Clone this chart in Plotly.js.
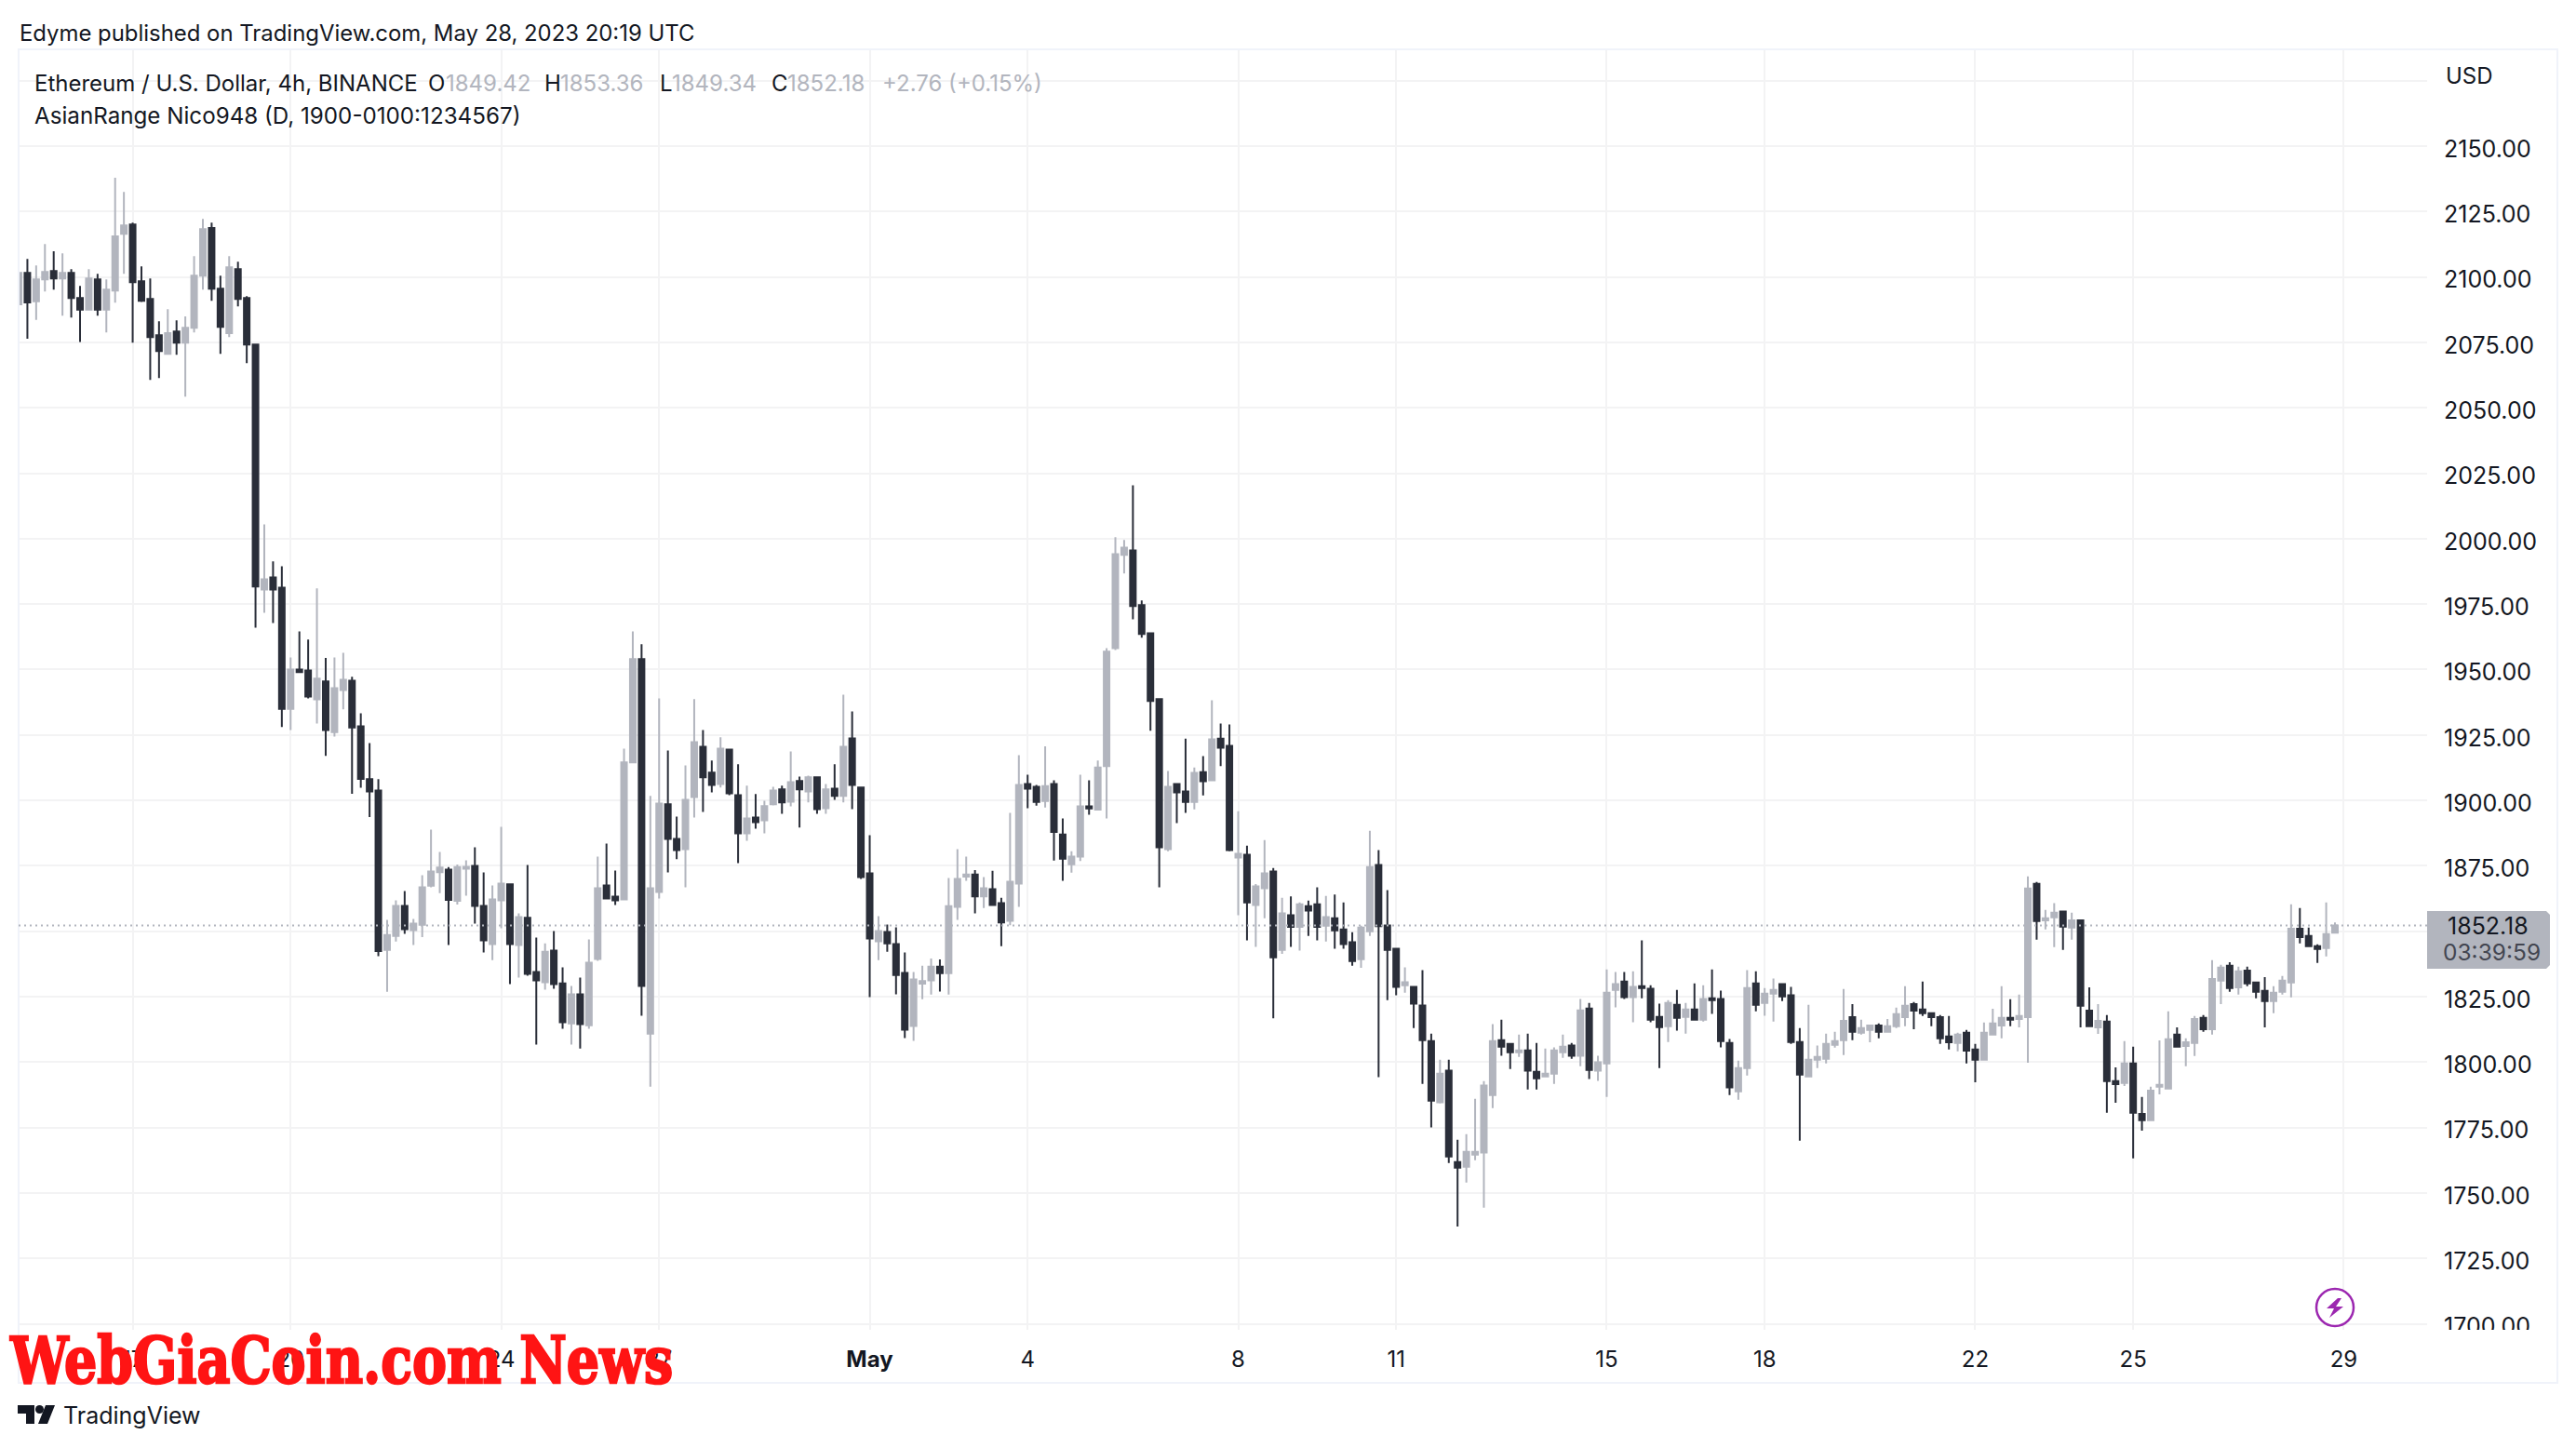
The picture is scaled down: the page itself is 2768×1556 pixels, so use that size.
<!DOCTYPE html>
<html>
<head>
<meta charset="utf-8">
<script src="https://cdn.plot.ly/plotly-3.0.1.min.js"></script>
<style>html,body{margin:0;padding:0;background:#fff}</style>
</head>
<body>
<div id="chart" style="width:2768px;height:1556px"></div>
<script>
const firstCandle = Date.UTC(2023, 3, 14, 20);
const opens = [
2089.6,2101.6,2090.7,2099.1,2102.3,2099.4,2101.6,2092.0,2087.5,2099.1,
2087.5,2094.8,2116.5,2120.1,2098.4,2091.6,2077.7,2070.6,2079.2,2074.9,
2080.6,2100.5,2118.7,2095.5,2078.5,2103.0,2092.0,2074.2,1980.6,1985.2,
1981.3,1935.0,1950.0,1949.6,1938.6,1945.5,1926.1,1942.2,1945.7,1928.3,
1908.1,1903.8,1842.9,1848.2,1859.7,1850.4,1852.5,1867.4,1872.6,1873.5,
1861.6,1873.9,1875.0,1859.7,1845.1,1861.8,1867.9,1844.7,1855.1,1834.4,
1830.5,1842.6,1830.1,1814.8,1825.9,1814.1,1839.4,1867.5,1863.2,1862.2,
1914.5,1954.0,1810.9,1865.0,1898.5,1885.3,1881.4,1901.3,1920.5,1910.6,
1906.3,1919.4,1902.0,1887.4,1893.5,1892.4,1898.5,1904.2,1899.5,1907.4,
1903.4,1908.8,1897.0,1904.5,1901.7,1923.7,1904.9,1872.1,1846.2,1849.7,
1845.1,1834.1,1813.8,1830.0,1831.2,1836.5,1834.0,1859.3,1870.9,1871.7,
1863.3,1866.1,1860.7,1854.0,1868.2,1906.3,1905.2,1899.8,1906.3,1887.0,
1875.6,1878.5,1897.7,1896.5,1913.1,1958.2,1993.8,1995.5,1974.6,1963.9,
1938.7,1881.4,1906.3,1903.4,1899.4,1910.8,1907.7,1923.6,1920.8,1878.2,
1879.2,1860.0,1866.4,1872.8,1842.9,1856.1,1851.7,1859.6,1860.3,1852.1,
1855.0,1850.7,1845.8,1839.3,1850.0,1875.3,1852.2,1843.3,1829.4,1828.7,
1821.6,1808.0,1784.6,1796.7,1761.8,1760.0,1764.6,1765.4,1787.4,1808.4,
1807.0,1803.8,1804.5,1796.3,1794.5,1795.6,1803.8,1806.3,1802.4,1820.5,
1796.7,1799.5,1827.6,1830.8,1824.8,1829.0,1828.0,1817.3,1813.7,1821.9,
1817.3,1820.1,1816.2,1824.4,1824.1,1807.3,1788.8,1797.7,1830.1,1822.6,
1826.2,1829.8,1825.5,1807.7,1794.5,1800.9,1801.3,1806.6,1808.4,1817.2,
1811.2,1812.3,1814.0,1811.6,1813.7,1817.2,1822.2,1820.1,1818.7,1817.2,
1809.8,1807.3,1811.2,1804.8,1800.9,1810.5,1814.0,1816.9,1816.5,1817.2,
1868.1,1854.2,1855.3,1857.5,1851.4,1854.2,1819.7,1813.3,1815.5,1792.7,
1792.0,1799.5,1780.2,1777.8,1790.6,1789.9,1810.5,1806.2,1807.3,1816.9,
1812.6,1831.1,1836.8,1828.6,1835.0,1830.4,1827.2,1823.3,1826.9,1830.4,
1851.0,1848.2,1844.3,1843.6,1849.42];
const closes = [
2101.6,2090.3,2099.1,2101.9,2099.4,2101.6,2092.0,2087.5,2099.4,2087.5,
2095.2,2115.5,2119.7,2098.0,2090.9,2077.0,2071.7,2078.5,2074.9,2080.6,
2100.5,2118.3,2095.5,2080.9,2103.7,2091.6,2074.2,1981.7,1984.5,1980.6,
1935.0,1950.0,1949.0,1939.7,1946.5,1926.9,1942.9,1946.1,1927.9,1908.2,
1903.4,1842.4,1848.6,1859.7,1850.8,1852.9,1866.8,1872.8,1874.3,1862.0,
1874.5,1874.6,1859.7,1846.5,1862.2,1868.2,1845.1,1855.4,1833.7,1831.2,
1842.2,1829.8,1815.2,1825.9,1814.5,1838.0,1866.4,1862.5,1861.8,1914.5,
1954.0,1829.1,1866.4,1898.8,1885.3,1881.0,1900.2,1922.3,1908.8,1905.9,
1919.8,1902.7,1887.4,1893.1,1891.7,1897.8,1903.8,1899.2,1907.0,1904.2,
1908.8,1896.7,1904.2,1901.7,1920.5,1905.9,1870.7,1847.2,1850.1,1845.4,
1833.3,1812.4,1831.6,1831.0,1836.5,1834.0,1859.6,1870.0,1871.7,1863.3,
1866.4,1860.0,1853.4,1868.9,1905.9,1904.5,1899.4,1905.5,1887.9,1877.7,
1878.5,1897.7,1896.9,1912.6,1956.8,1994.1,1996.6,1974.3,1963.6,1938.0,
1882.1,1905.2,1903.1,1899.4,1910.5,1907.3,1923.3,1920.1,1881.0,1879.6,
1861.0,1867.1,1872.1,1840.0,1856.8,1851.7,1860.3,1857.9,1851.7,1855.4,
1850.3,1845.1,1838.6,1851.4,1874.5,1851.9,1842.9,1828.7,1830.5,1822.3,
1808.4,1785.3,1795.6,1763.9,1759.7,1765.7,1765.7,1791.0,1808.0,1805.9,
1803.8,1804.5,1796.7,1793.8,1795.6,1804.5,1805.9,1802.4,1819.8,1797.0,
1799.9,1826.5,1829.8,1824.8,1828.7,1828.3,1816.2,1813.4,1822.6,1816.9,
1820.1,1816.2,1824.1,1823.7,1808.0,1790.3,1797.7,1828.3,1821.9,1826.2,
1827.6,1825.1,1807.7,1795.2,1800.9,1802.0,1807.0,1808.0,1815.8,1811.6,
1813.0,1814.0,1811.6,1813.7,1818.3,1821.5,1819.7,1818.7,1817.2,1809.1,
1807.6,1810.5,1804.4,1800.9,1811.2,1814.8,1816.9,1816.2,1817.6,1866.3,
1853.9,1855.0,1857.1,1851.8,1854.2,1821.5,1813.7,1815.8,1792.7,1791.6,
1799.5,1780.6,1777.8,1789.1,1791.3,1808.7,1805.9,1807.6,1816.5,1812.6,
1831.8,1836.1,1828.3,1834.7,1830.1,1826.9,1823.3,1826.5,1831.1,1851.0,
1847.8,1844.3,1843.2,1848.9,1852.18];
const highs = [
2120.1,2106.9,2104.4,2112.6,2109.8,2109.0,2103.0,2096.6,2103.0,2101.2,
2099.1,2137.9,2132.5,2120.8,2104.1,2099.4,2083.1,2087.7,2083.4,2084.9,
2108.0,2122.2,2120.8,2100.5,2108.0,2105.8,2092.7,2074.2,2005.5,1991.3,
1989.5,1954.6,1964.6,1961.5,1981.0,1954.4,1954.6,1956.4,1947.2,1933.3,
1921.9,1908.1,1854.3,1861.8,1865.4,1854.7,1871.4,1888.8,1880.3,1874.5,
1875.5,1877.1,1882.1,1872.5,1867.5,1889.9,1867.9,1856.8,1875.3,1847.6,
1845.4,1850.1,1836.2,1829.1,1832.3,1846.9,1878.5,1883.5,1873.2,1919.8,
1964.6,1959.7,1901.7,1939.0,1919.1,1893.8,1913.4,1938.7,1926.9,1915.2,
1924.1,1919.4,1913.8,1905.6,1902.4,1899.9,1905.2,1905.6,1918.7,1909.1,
1909.5,1909.1,1906.3,1913.8,1940.4,1934.0,1904.9,1886.7,1855.8,1852.6,
1851.5,1841.9,1834.4,1836.8,1839.6,1839.2,1870.3,1881.4,1878.5,1873.4,
1870.7,1873.1,1862.8,1895.2,1917.3,1909.8,1905.9,1920.7,1907.7,1893.1,
1880.6,1909.8,1907.7,1915.2,1958.2,2000.6,1999.5,2020.4,1976.4,1963.9,
1938.7,1911.2,1906.3,1923.6,1912.6,1916.9,1938.3,1929.4,1929.0,1895.9,
1882.7,1868.0,1884.8,1874.2,1862.8,1863.3,1861.0,1861.7,1866.8,1863.5,
1864.0,1861.0,1849.6,1852.1,1888.4,1881.0,1865.7,1843.3,1836.2,1828.7,
1835.1,1810.9,1800.9,1800.9,1770.3,1772.5,1786.0,1792.7,1814.5,1816.2,
1807.3,1810.5,1810.9,1807.3,1805.2,1805.6,1810.5,1807.3,1824.1,1822.6,
1802.4,1835.4,1834.4,1834.4,1834.7,1846.5,1829.4,1822.3,1823.7,1827.6,
1822.6,1830.1,1829.4,1835.4,1827.3,1808.8,1800.6,1835.1,1834.7,1828.3,
1831.9,1829.8,1828.7,1813.0,1821.9,1806.3,1810.9,1811.6,1827.9,1822.2,
1816.2,1814.0,1814.8,1816.5,1820.8,1829.0,1823.0,1830.8,1818.7,1818.0,
1817.6,1811.2,1812.3,1807.0,1815.1,1820.4,1829.0,1824.0,1825.8,1871.0,
1868.8,1858.2,1860.7,1857.8,1857.1,1854.2,1828.6,1822.2,1818.0,1798.0,
1808.0,1805.9,1786.7,1790.6,1808.3,1819.4,1813.3,1809.1,1817.6,1818.0,
1839.0,1837.2,1838.2,1836.5,1836.5,1830.8,1832.5,1829.0,1832.9,1860.3,
1858.9,1851.4,1845.0,1861.0,1853.36];
const lows = [
2087.5,2076.4,2083.6,2094.5,2095.2,2085.2,2084.5,2075.2,2087.5,2085.2,
2078.8,2090.2,2101.2,2074.9,2090.5,2060.7,2061.4,2070.6,2070.3,2054.3,
2078.8,2095.2,2090.9,2070.6,2077.0,2088.8,2067.1,1966.0,1971.7,1967.8,
1928.0,1926.9,1949.0,1939.0,1929.4,1917.0,1924.4,1934.8,1902.5,1904.8,
1893.6,1840.5,1826.9,1846.1,1849.0,1844.7,1847.8,1866.8,1864.6,1844.7,
1860.2,1863.6,1852.9,1841.9,1839.0,1851.1,1829.8,1832.3,1833.0,1806.7,
1827.7,1828.0,1812.7,1806.7,1805.2,1812.7,1838.7,1862.5,1860.0,1862.2,
1914.5,1817.7,1790.6,1862.5,1872.5,1877.5,1866.8,1893.5,1895.6,1903.1,
1904.9,1902.0,1876.0,1884.6,1889.2,1887.4,1898.1,1894.9,1897.7,1889.6,
1899.2,1894.9,1894.9,1900.2,1899.2,1896.7,1870.0,1824.8,1839.0,1842.2,
1825.9,1809.2,1808.1,1824.0,1825.8,1827.0,1825.8,1854.3,1869.3,1856.8,
1858.9,1860.0,1844.3,1852.3,1859.3,1897.0,1898.0,1897.3,1877.0,1869.3,
1872.4,1876.8,1894.5,1896.5,1893.1,1957.5,1986.7,1969.2,1962.2,1926.6,
1866.8,1880.6,1891.3,1895.2,1896.6,1901.9,1907.7,1913.1,1880.6,1856.1,
1846.5,1844.0,1855.0,1816.7,1841.4,1844.0,1842.6,1848.2,1846.5,1846.1,
1843.3,1843.3,1836.8,1836.0,1848.2,1794.2,1823.7,1825.5,1826.5,1813.0,
1791.7,1775.0,1784.2,1761.4,1737.2,1754.0,1762.5,1744.4,1782.4,1802.4,
1797.4,1802.0,1789.5,1789.5,1794.2,1791.7,1801.6,1801.3,1798.4,1793.5,
1792.8,1786.7,1820.9,1824.1,1815.2,1824.4,1815.2,1797.7,1807.7,1812.0,
1810.9,1816.2,1815.5,1818.4,1805.6,1787.4,1785.6,1794.9,1819.4,1817.7,
1815.5,1823.3,1807.0,1770.0,1794.5,1797.7,1799.5,1805.5,1802.7,1808.4,
1810.5,1807.6,1809.1,1811.6,1813.0,1813.7,1812.6,1817.6,1813.7,1807.0,
1804.8,1804.1,1799.5,1792.3,1800.9,1810.5,1809.1,1813.7,1813.3,1799.8,
1846.8,1850.7,1843.9,1842.9,1846.8,1813.3,1813.7,1810.8,1780.6,1784.5,
1790.9,1763.2,1773.8,1777.8,1787.7,1789.9,1805.5,1798.4,1802.3,1811.6,
1810.5,1822.2,1826.9,1825.8,1829.0,1824.4,1813.3,1818.7,1825.8,1824.7,
1845.4,1843.9,1837.9,1840.4,1849.34];
const priceTicks = [1700,1725,1750,1775,1800,1825,1850,1875,1900,1925,1950,1975,2000,2025,2050,2075,2100,2125,2150,2175];
const hiddenPriceLabels = [1850,2175];
const dateTicks = ['2023-04-17','2023-04-20','2023-04-24','2023-04-27','2023-05-01','2023-05-04','2023-05-08','2023-05-11','2023-05-15','2023-05-18','2023-05-22','2023-05-25','2023-05-29'];
const dateLabels = ['17','20','24','27','<b>May</b>','4','8','11','15','18','22','25','29'];
const lastPrice = 1852.18;

const UP = '#B2B5BE', DOWN = '#2A2E39', INK = '#131722', GRID = '#F3F3F4', FRAME = '#F0F3FA';
const FONT = 'Inter, "Noto Sans", sans-serif';
const PL = 20, PR = 2608, PT = 53, PB = 1429;
const WATERMARK = 'WebGiaCoin.com News';
const fx = p => (p - PL) / (PR - PL);
const fy = p => (PB - p) / (PB - PT);
const times = opens.map((_, i) => new Date(firstCandle + i * 4 * 3600 * 1000).toISOString().slice(0, 16).replace('T', ' '));

const trace = {
  type: 'candlestick', x: times, open: opens, high: highs, low: lows, close: closes,
  increasing: {line: {color: UP, width: 2}, fillcolor: UP},
  decreasing: {line: {color: DOWN, width: 2}, fillcolor: DOWN},
  whiskerwidth: 0, hoverinfo: 'skip', showlegend: false
};

function label(text, px, py, o) {
  return Object.assign({
    text, xref: 'paper', yref: 'paper', x: fx(px), y: fy(py), xanchor: 'left', yanchor: 'middle',
    showarrow: false, borderpad: 0, font: {family: FONT, size: 24, color: INK}
  }, o || {});
}
const grey = {font: {family: FONT, size: 24, color: UP}};
const annotations = [
  label('Edyme published on TradingView.com, May 28, 2023 20:19 UTC', 20, 36, {font: {family: FONT, size: 23.9, color: INK}}),
  label('Ethereum / U.S. Dollar, 4h, BINANCE', 36, 90),
  label('O', 459, 90), label('1849.42', 478, 90, grey),
  label('H', 584, 90), label('1853.36', 601, 90, grey),
  label('L', 708, 90), label('1849.34', 721, 90, grey),
  label('C', 828, 90), label('1852.18', 845, 90, grey),
  label('+2.76 (+0.15%)', 947, 90, grey),
  label('AsianRange Nico948 (D, 1900-0100:1234567)', 36, 124, {font: {family: FONT, size: 24.2, color: INK}}),
  label('USD', 2627, 81),
  label('1852.18', 2673, 995, {xanchor: 'center', font: {family: FONT, size: 25, color: INK}}),
  label('03:39:59', 2677, 1023, {xanchor: 'center', font: {family: FONT, size: 24.5, color: '#434651'}}),
  label('TradingView', 67, 1521, {font: {family: FONT, size: 25, color: INK}}),
  label(WATERMARK, 366, 1461, {xanchor: 'center', font: {family: '"DejaVu Serif", serif', size: 70, color: '#FF1414', weight: 700}})
];

function pxPath(cmds) {
  return cmds.map(c => typeof c === 'string' ? c : fx(c[0]) + ',' + fy(c[1])).join(' ');
}
const paperRef = {xref: 'paper', yref: 'paper', layer: 'above'};
const shapes = [
  Object.assign({type: 'rect', x0: fx(2609), x1: fx(2747), y0: fy(1429), y1: fy(1485), fillcolor: '#fff', line: {width: 0}}, paperRef),
  Object.assign({type: 'rect', x0: fx(20), x1: fx(2748), y0: fy(53), y1: fy(1486), line: {color: FRAME, width: 2}, fillcolor: 'rgba(0,0,0,0)'}, paperRef),
  {type: 'line', xref: 'paper', yref: 'y', layer: 'above', x0: 0, x1: 1, y0: lastPrice, y1: lastPrice, line: {color: UP, width: 2, dash: '2px,4px'}},
  Object.assign({type: 'path', fillcolor: UP, line: {width: 0},
    path: pxPath(['M', [2608, 979], 'L', [2736, 979], 'L', [2740, 983], 'L', [2740, 1037], 'L', [2736, 1041], 'L', [2608, 1041], 'Z'])}, paperRef),
  Object.assign({type: 'circle', x0: fx(2489), x1: fx(2529), y0: fy(1385), y1: fy(1425), line: {color: '#9C27B0', width: 2.5}, fillcolor: '#fff'}, paperRef),
  Object.assign({type: 'path', fillcolor: '#9C27B0', line: {width: 0},
    path: pxPath(['M', [2512, 1395], 'L', [2500, 1406], 'L', [2508, 1406], 'L', [2503, 1416], 'L', [2518, 1404], 'L', [2510, 1404], 'L', [2516, 1395], 'Z'])}, paperRef),
  Object.assign({type: 'path', fillcolor: INK, line: {width: 0},
    path: pxPath(['M', [19, 1510], 'L', [37, 1510], 'L', [37, 1530], 'L', [28, 1530], 'L', [28, 1519], 'L', [19, 1519], 'Z'])}, paperRef),
  Object.assign({type: 'circle', x0: fx(38), x1: fx(47), y0: fy(1510), y1: fy(1519), fillcolor: INK, line: {width: 0}}, paperRef),
  Object.assign({type: 'path', fillcolor: INK, line: {width: 0},
    path: pxPath(['M', [49, 1510], 'L', [59, 1510], 'L', [51, 1530], 'L', [41, 1530], 'Z'])}, paperRef)
];

const layout = {
  width: 2768, height: 1556, autosize: false,
  margin: {l: PL, r: 2768 - PR, t: PT, b: 1556 - PB, pad: 0},
  paper_bgcolor: '#fff', plot_bgcolor: '#fff', showlegend: false, boxgap: 0.09,
  xaxis: {
    type: 'date', range: ['2023-04-14 20:00', '2023-05-30 14:00'], rangeslider: {visible: false},
    tickmode: 'array', tickvals: dateTicks, ticktext: dateLabels, tickangle: 0,
    showgrid: true, gridcolor: GRID, gridwidth: 2, zeroline: false, showline: false,
    ticks: 'outside', ticklen: 10, tickcolor: 'rgba(0,0,0,0)', tickfont: {family: FONT, size: 24, color: INK}
  },
  yaxis: {
    side: 'right', range: [1697.7, 2187], tickmode: 'array', tickvals: priceTicks,
    ticktext: priceTicks.map(v => hiddenPriceLabels.includes(v) ? '' : v.toFixed(2)),
    showgrid: true, gridcolor: GRID, gridwidth: 2, zeroline: false, showline: false,
    ticks: 'outside', ticklen: 12, tickcolor: 'rgba(0,0,0,0)', tickfont: {family: FONT, size: 25, color: INK}
  },
  annotations, shapes
};
Plotly.newPlot('chart', [trace], layout, {staticPlot: true, displayModeBar: false, responsive: false}).then(gd => {
  gd.querySelectorAll('.ytick text').forEach(t => t.setAttribute('dy', '3'));
  gd.querySelectorAll('.annotation-text').forEach(t => {
    if (t.textContent === WATERMARK) {
      t.setAttribute('textLength', '712');
      t.setAttribute('lengthAdjust', 'spacingAndGlyphs');
      t.style.stroke = '#FF1414';
      t.style.strokeWidth = '2.5px';
    }
  });
});
</script>
</body>
</html>
